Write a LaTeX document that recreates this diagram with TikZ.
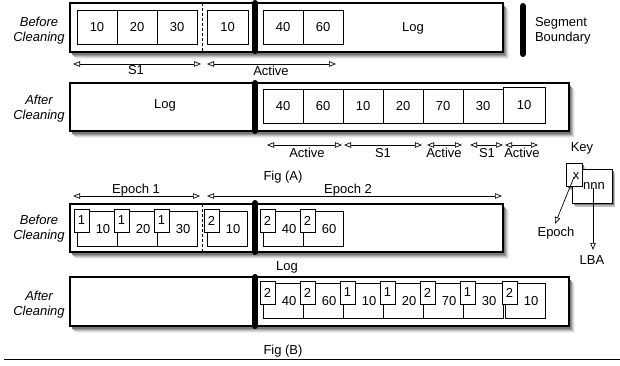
\documentclass[tikz,border=0pt]{standalone}
\usepackage{fontspec}
\setmainfont{Liberation Sans}
\usetikzlibrary{arrows.meta}
\definecolor{shd0}{RGB}{240,240,240}
\definecolor{shd1}{RGB}{220,220,220}
\definecolor{shd2}{RGB}{190,190,190}
\definecolor{shd3}{RGB}{155,155,155}
\definecolor{shd4}{RGB}{120,120,120}
\tikzset{
  logbox/.style={draw=black, line width=1.1pt, fill=white, anchor=north west, outer sep=0pt, inner sep=0pt},
  keybox/.style={draw=black, line width=0.8pt, fill=white, anchor=north west, outer sep=0pt, inner sep=0pt},
  cellA/.style={draw=black, line width=0.7pt, fill=white, anchor=north west, outer sep=0pt, inner sep=0pt,
    minimum width=40pt, minimum height=34pt},
  cellB/.style={draw=black, line width=0.7pt, fill=white, anchor=north west, outer sep=0pt, inner sep=0pt,
    minimum width=40pt, minimum height=35pt},
  tagbox/.style={draw=black, line width=0.7pt, fill=white, anchor=north west, outer sep=0pt, inner sep=0pt,
    minimum width=15pt, minimum height=23pt},
  lbl/.style={inner sep=0pt, outer sep=0pt},
  sidelbl/.style={inner sep=0pt, align=center, font=\fontsize{13}{15}\selectfont\itshape},
  segbar/.style={line width=6pt, line cap=round},
  dashline/.style={line width=0.7pt, dash pattern=on 3pt off 2pt},
  spanline/.style={{Triangle[open,length=7pt,width=5.5pt]}-{Triangle[open,length=7pt,width=5.5pt]}, line width=0.7pt},
  pointer/.style={-{Triangle[open,length=7pt,width=5.5pt]}, line width=0.7pt},
  shadow0/.style={fill=shd0, draw=none},
  shadowA/.style={fill=shd1, draw=none},
  shadowB/.style={fill=shd2, draw=none},
  shadowC/.style={fill=shd3, draw=none},
  shadowD/.style={fill=shd4, draw=none},
}
% epoch-tagged cell: name, x0, y0, epoch, value
\newcommand\epcell[5]{%
  \node[cellB] (#1) at (#2,#3) {};
  \node[tagbox] (#1t) at ({#2-3},{#3-2}) {#4};
  \node[lbl] (#1v) at ({#2+26},{#3+18.5}) {#5};
}
\begin{document}
\begin{tikzpicture}[x=1pt,y=-1pt, font=\fontsize{13}{15}\selectfont]
\useasboundingbox (0,0) rectangle (620,366);

% ---------- shadows (drawn first, behind the boxes) ----------
\fill[shadow0] (76,10) rectangle (509,59);
\fill[shadowA] (75,9) rectangle (508,58);
\fill[shadowB] (74,8) rectangle (507,57);
\fill[shadowC] (73,7) rectangle (506,56);
\fill[shadowD] (72,6) rectangle (505,55);

\fill[shadow0] (76,90) rectangle (575,138);
\fill[shadowA] (75,89) rectangle (574,137);
\fill[shadowB] (74,88) rectangle (573,136);
\fill[shadowC] (73,87) rectangle (572,135);
\fill[shadowD] (72,86) rectangle (571,134);

\fill[shadow0] (76,211) rectangle (509,259);
\fill[shadowA] (75,210) rectangle (508,258);
\fill[shadowB] (74,209) rectangle (507,257);
\fill[shadowC] (73,208) rectangle (506,256);
\fill[shadowD] (72,207) rectangle (505,255);

\fill[shadow0] (76,284) rectangle (575,333);
\fill[shadowA] (75,283) rectangle (574,332);
\fill[shadowB] (74,282) rectangle (573,331);
\fill[shadowC] (73,281) rectangle (572,330);
\fill[shadowD] (72,280) rectangle (571,329);

\fill[shadowB] (575,173) rectangle (615,207);
\fill[shadowD] (574,171) rectangle (614,205);
\fill[shadowB] (569,167) rectangle (585,190);
\fill[shadowD] (568,165) rectangle (584,188);

% ================= Fig (A) =================
% --- before cleaning
\node[sidelbl] (bcA) at (39,31) {Before\\Cleaning};
\node[logbox, minimum width=433pt, minimum height=49pt] (A1) at (70,3) {};
\node[cellA] (a11) at (77,10) {10};
\node[cellA] (a12) at (117,10) {20};
\node[cellA] (a13) at (157,10) {30};
\node[cellA, minimum width=41pt] (a14) at (207,10) {10};
\node[cellA] (a15) at (263,10) {40};
\node[cellA] (a16) at (303,10) {60};
\node[lbl] (logA1) at (413,28) {Log};
\coordinate (dA1t) at (202,3);
\coordinate (dA1b) at (202,52);
\draw[dashline] (dA1t) -- (dA1b);
\coordinate (sA1t) at (255,3);
\coordinate (sA1b) at (255,51);
\draw[segbar] (sA1t) -- (sA1b);

% segment boundary legend
\coordinate (sbt) at (523,6);
\coordinate (sbb) at (523,54);
\draw[segbar] (sbt) -- (sbb);
\node[lbl, anchor=west, align=left] (sbl) at (535,31) {Segment\\Boundary};

% spans row 1
\coordinate (r1a) at (73,64);
\coordinate (r1b) at (201,64);
\coordinate (r1c) at (207,64);
\coordinate (r1d) at (336,64);
\draw[spanline] (r1a) -- (r1b);
\draw[spanline] (r1c) -- (r1d);
\node[lbl] (s1A) at (136,70.5) {S1};
\node[lbl] (actA) at (271,70.5) {Active};

% --- after cleaning
\node[sidelbl] (acA) at (39,109) {After\\Cleaning};
\node[logbox, minimum width=499pt, minimum height=48pt] (A2) at (70,83) {};
\node[lbl] (logA2) at (165,105) {Log};
\node[cellA] (b1) at (263,89) {40};
\node[cellA] (b2) at (303,89) {60};
\node[cellA] (b3) at (343,89) {10};
\node[cellA] (b4) at (383,89) {20};
\node[cellA] (b5) at (423,89) {70};
\node[cellA] (b6) at (463,89) {30};
\node[cellA, minimum width=42pt, minimum height=36pt] (b7) at (503,87) {10};
\coordinate (sA2t) at (255,83);
\coordinate (sA2b) at (255,131);
\draw[segbar] (sA2t) -- (sA2b);

% spans row 2
\coordinate (r2a) at (267,145);
\coordinate (r2b) at (342,145);
\coordinate (r2c) at (344,145);
\coordinate (r2d) at (422,145);
\coordinate (r2e) at (427,145);
\coordinate (r2f) at (462,145);
\coordinate (r2g) at (470,145);
\coordinate (r2h) at (503,145);
\coordinate (r2i) at (505,145);
\coordinate (r2j) at (538,145);
\draw[spanline] (r2a) -- (r2b);
\draw[spanline] (r2c) -- (r2d);
\draw[spanline] (r2e) -- (r2f);
\draw[spanline] (r2g) -- (r2h);
\draw[spanline] (r2i) -- (r2j);
\node[lbl] (l2a) at (307,153) {Active};
\node[lbl] (l2b) at (383,153) {S1};
\node[lbl] (l2c) at (444,153) {Active};
\node[lbl] (l2d) at (487,153) {S1};
\node[lbl] (l2e) at (522,153) {Active};

\node[lbl] (figA) at (283,177) {Fig (A)};

% ================= Key =================
\node[lbl] (key) at (582,148) {Key};
\node[keybox, minimum width=40pt, minimum height=34pt] (kb) at (572,169) {};
\node[keybox, minimum width=16pt, minimum height=23pt] (kt) at (566,163) {};
\node[lbl] (kx) at (576,176) {x};
\node[lbl] (kn) at (594,186) {nnn};
\node[lbl] (kep) at (556,233) {Epoch};
\node[lbl] (klba) at (592,260) {LBA};
\coordinate (kxs) at (574,177);
\coordinate (kxe) at (555,224);
\draw[pointer] (kxs) -- (kxe);
\coordinate (kns) at (593,188);
\coordinate (kne) at (593,250);
\draw[pointer] (kns) -- (kne);

% ================= Fig (B) =================
% spans
\coordinate (e1a) at (73,196);
\coordinate (e1b) at (200,196);
\coordinate (e2a) at (207,196);
\coordinate (e2b) at (502,196);
\draw[spanline] (e1a) -- (e1b);
\draw[spanline] (e2a) -- (e2b);
\node[lbl, anchor=base] (ep1) at (136,193.5) {Epoch 1};
\node[lbl, anchor=base] (ep2) at (348,193.5) {Epoch 2};

% --- before cleaning
\node[sidelbl] (bcB) at (39,229) {Before\\Cleaning};
\node[logbox, minimum width=433pt, minimum height=48pt] (B1) at (70,204) {};
\epcell{c1}{77}{211}{1}{10}
\epcell{c2}{117}{211}{1}{20}
\epcell{c3}{157}{211}{1}{30}
\epcell{c4}{207}{211}{2}{10}
\epcell{c5}{263}{211}{2}{40}
\epcell{c6}{303}{211}{2}{60}
\coordinate (dB1t) at (202,204);
\coordinate (dB1b) at (202,252);
\draw[dashline] (dB1t) -- (dB1b);
\coordinate (sB1t) at (255,203);
\coordinate (sB1b) at (255,252);
\draw[segbar] (sB1t) -- (sB1b);
\node[lbl] (logB) at (287,267) {Log};

% --- after cleaning
\node[sidelbl] (acB) at (39,305) {After\\Cleaning};
\node[logbox, minimum width=499pt, minimum height=49pt] (B2) at (70,277) {};
\epcell{d1}{263}{283}{2}{40}
\epcell{d2}{303}{283}{2}{60}
\epcell{d3}{343}{283}{1}{10}
\epcell{d4}{383}{283}{1}{20}
\epcell{d5}{423}{283}{2}{70}
\epcell{d6}{463}{283}{1}{30}
\epcell{d7}{505}{283}{2}{10}
\coordinate (sB2t) at (255,277);
\coordinate (sB2b) at (255,326);
\draw[segbar] (sB2t) -- (sB2b);

\node[lbl] (figB) at (283,351) {Fig (B)};
\coordinate (hl1) at (4,359);
\coordinate (hl2) at (620,359);
\draw[line width=0.8pt] (hl1) -- (hl2);
\end{tikzpicture}
\end{document}
